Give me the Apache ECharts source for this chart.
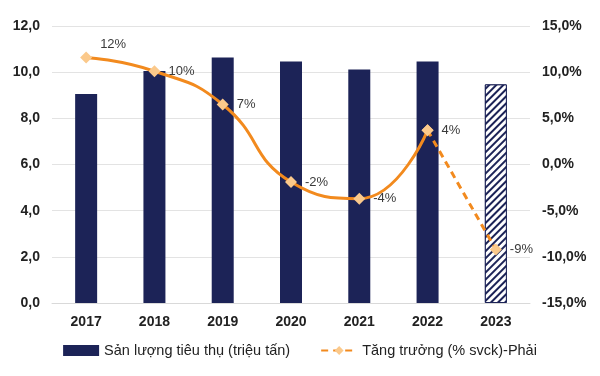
<!DOCTYPE html>
<html><head><meta charset="utf-8">
<script src="https://cdn.jsdelivr.net/npm/echarts@6/dist/echarts.min.js"></script>
<style>html,body{margin:0;padding:0;background:#fff}#c{width:600px;height:376px}</style>
</head><body><div id="c"></div>
<script>
const categories = ['2017','2018','2019','2020','2021','2022','2023'];
const volume = [9.05, 10.05, 10.63, 10.46, 10.12, 10.46, 9.47];
const growth = [11.6, 10.1, 6.5, -1.9, -3.7, 3.7, -9.2];
const leftTicks = {min: 0, max: 12, interval: 2};
const rightTicks = {min: -15, max: 15, interval: 5};
const barName = 'Sản lượng tiêu thụ (triệu tấn)';
const lineName = 'Tăng trưởng (% svck)-Phải';

const navy = '#1c2357';
const orange = '#f28a1e';
const peach = '#fbc98b';
const projIndex = 6;
const FONT = "'Liberation Sans', Arial, sans-serif";

const chart = echarts.init(document.getElementById('c'));
const barData = volume.map((v, i) => i === projIndex ? {
  value: v,
  itemStyle: {
    color: '#ffffff', borderColor: navy, borderWidth: 1,
    decal: {symbol: 'rect', color: navy, backgroundColor: '#ffffff', dashArrayX: [1, 0], dashArrayY: [1.6, 2.4], rotation: -Math.PI / 4}
  }
} : v);
const solid = growth.map((v, i) => i < projIndex ? v : '-');
const dashed = growth.map((v, i) => i >= projIndex - 1 ? v : '-');
const labelCfg = {
  show: true, position: 'right', distance: 8,
  color: '#3a3a3a', fontSize: 13, fontFamily: FONT,
  formatter: p => Math.round(p.value) + '%'
};
const solidData = solid.map((v, i) => i === 0 ? {value: v, label: {offset: [0, -13]}} : v);

chart.setOption({
  animation: false,
  textStyle: {fontFamily: FONT},
  grid: {left: 52, right: 70, top: 26, bottom: 73},
  legend: {
    bottom: 13, left: 'center', itemGap: 30, itemWidth: 36, itemHeight: 11,
    textStyle: {color: '#222', fontSize: 14.5, fontFamily: FONT},
    data: [{name: barName, icon: 'rect'}, {name: lineName}]
  },
  xAxis: {
    type: 'category', data: categories,
    axisLine: {lineStyle: {color: '#d9d9d9'}}, axisTick: {show: false},
    axisLabel: {color: '#222', fontWeight: 'bold', fontSize: 14, margin: 12, fontFamily: FONT}
  },
  yAxis: [{
    type: 'value', min: leftTicks.min, max: leftTicks.max, interval: leftTicks.interval,
    axisLabel: {color: '#222', fontWeight: 'bold', fontSize: 14, margin: 12, fontFamily: FONT,
      formatter: v => v.toFixed(1).replace('.', ',')},
    splitLine: {lineStyle: {color: '#e3e3e3'}}, axisLine: {show: false}, axisTick: {show: false}
  }, {
    type: 'value', min: rightTicks.min, max: rightTicks.max, interval: rightTicks.interval,
    axisLabel: {color: '#222', fontWeight: 'bold', fontSize: 14, margin: 12, fontFamily: FONT,
      formatter: v => v.toFixed(1).replace('.', ',') + '%'},
    splitLine: {show: false}, axisLine: {show: false}, axisTick: {show: false}
  }],
  series: [{
    name: barName, type: 'bar', data: barData, barWidth: 22,
    itemStyle: {color: navy}
  }, {
    name: lineName, type: 'line', yAxisIndex: 1, data: dashed, smooth: true,
    symbol: 'diamond', symbolSize: 12,
    lineStyle: {color: orange, width: 3, type: [7, 5]},
    itemStyle: {color: peach},
    label: Object.assign({}, labelCfg, {formatter: p => p.dataIndex === projIndex ? Math.round(p.value) + '%' : ''}),
    z: 3
  }, {
    name: lineName, type: 'line', yAxisIndex: 1, data: solidData, smooth: true,
    symbol: 'diamond', symbolSize: 12,
    lineStyle: {color: orange, width: 3},
    itemStyle: {color: peach},
    label: labelCfg,
    z: 4
  }]
});
</script></body></html>
